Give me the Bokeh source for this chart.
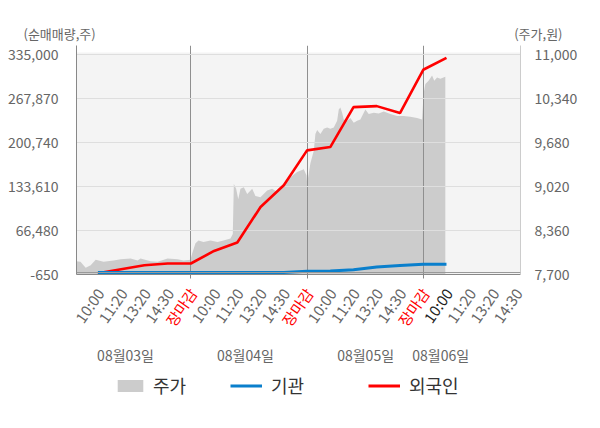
from bokeh.plotting import figure
from bokeh.layouts import column
from bokeh.models import (Range1d, LinearAxis, FixedTicker, NumeralTickFormatter, ColumnDataSource,
                          Legend, LegendItem, Span)
from bokeh.embed import file_html
from bokeh.resources import INLINE
from bokeh.core.properties import value

FONT = "Noto Sans CJK KR"
NAN = float("nan")

# ---------------- data ----------------
days = ["08월03일", "08월04일", "08월05일", "08월06일"]
session_ticks = ["10:00", "11:20", "13:20", "14:30", "장마감"]
left_ticks = [-650, 66480, 133610, 200740, 267870, 335000]
right_ticks = [7700, 8360, 9020, 9680, 10340, 11000]
left_title = "(순매매량,주)"
right_title = "(주가,원)"
series_names = ["주가", "기관", "외국인"]

# checkpoints (day index + session fraction) for net purchase series
flow_x = [0.2, 0.4, 0.6, 0.8, 1.0,
          1.2, 1.4, 1.6, 1.8, 2.0,
          2.2, 2.4, 2.6, 2.8, 3.0,
          3.2]
foreign = [1030, 7440, 13540, 16130, 16130,
           35360, 48170, 102490, 135600, 189000,
           194030, 255060, 256580, 245900, 312120,
           330430]
institution = [2400, 2400, 2400, 2400, 2400,
               2400, 2400, 2400, 2400, 4390,
               4840, 6670, 10950, 13080, 15060,
               15100]

# intraday price (day index + fraction of session)
price_x = [0.0, 0.05, 0.095, 0.138, 0.181, 0.249, 0.335, 0.396, 0.482, 0.542, 0.567, 0.653,
           0.714, 0.8, 0.886, 0.937, 0.997,
           1.012, 1.04, 1.066, 1.109, 1.169, 1.23, 1.281, 1.341, 1.361, 1.37, 1.39, 1.408,
           1.427, 1.456, 1.485, 1.528, 1.556, 1.599, 1.657, 1.7, 1.743, 1.8, 1.857, 1.915,
           1.972, 1.995,
           2.001, 2.015, 2.029, 2.058, 2.072, 2.087, 2.115, 2.144, 2.173, 2.201, 2.23, 2.259,
           2.273, 2.287, 2.302, 2.316, 2.345, 2.373, 2.402, 2.431, 2.459, 2.502, 2.531, 2.574,
           2.617, 2.66, 2.717, 2.775, 2.831, 2.889, 2.947, 2.99,
           3.003, 3.018, 3.046, 3.076, 3.095, 3.119, 3.147, 3.19]
price = [7900, 7890, 7800, 7840, 7920, 7890, 7910, 7930, 7940, 7910, 7940, 7900,
         7890, 7940, 7930, 7910, 7920,
         8020, 8170, 8210, 8190, 8210, 8190, 8210, 8240, 8310, 9060, 8990, 8830,
         8990, 9010, 8910, 8990, 8880, 8860, 8960, 8990, 8940, 9060, 9160, 9240,
         9280, 9190,
         9070, 9220, 9370, 9560, 9810, 9870, 9810, 9890, 9910, 9890, 9910, 10010,
         10180, 10210, 10130, 10030, 10010, 10050, 9980, 10010, 10030, 10180, 10110, 10130,
         10120, 10150, 10110, 10080, 10080, 10070, 10050, 10030,
         10420, 10560, 10610, 10690, 10610, 10660, 10640, 10670]

date_pos = [0.438, 1.47, 2.504, 3.15]

# ---------------- layout constants (pixels) ----------------
W = 600
TOP_H = 45
MAIN_H = 238
BOT_H = 428 - TOP_H - MAIN_H
FL, FR = 76, 80          # frame borders left / right
X0, X1 = 0.016, 3.837    # x range of the plotting frame
px_per_unit = (W - FL - FR) / (X1 - X0)


def bare(fig):
    fig.xaxis.visible = False
    fig.yaxis.visible = False
    fig.grid.visible = False
    fig.outline_line_color = None
    return fig


# ---------------- top strip: axis titles ----------------
top = bare(figure(width=W, height=TOP_H, output_backend="svg", toolbar_location=None,
                  x_range=Range1d(0, W), y_range=Range1d(TOP_H, 0), frame_align=False,
                  x_axis_location=None, y_axis_location=None,
                  min_border=0, min_border_left=0, min_border_right=0,
                  min_border_top=0, min_border_bottom=0,
                  background_fill_color="white", border_fill_color="white"))
top.text(x=[23], y=[33], text=[left_title], text_align="left", text_baseline="middle",
         text_font=value(FONT), text_font_size="13px", text_color="#666666")
top.text(x=[562], y=[33], text=[right_title], text_align="right", text_baseline="middle",
         text_font=value(FONT), text_font_size="13px", text_color="#666666")

# ---------------- main chart ----------------
p = figure(width=W, height=MAIN_H, output_backend="svg", toolbar_location=None,
           x_range=Range1d(X0, X1), y_range=Range1d(-650, 349200), frame_align=False,
           min_border_left=FL, min_border_right=FR, min_border_top=0, min_border_bottom=9,
           background_fill_color="white", border_fill_color="white", outline_line_color=None)
p.extra_y_ranges = {"price": Range1d(7700, 11140)}

p.quad(left=[X0], right=[X1], bottom=[left_ticks[0]], top=[338500],
       fill_color="#f4f4f4", line_color=None, level="image")

area = p.varea(x=price_x, y1=[right_ticks[0]] * len(price_x), y2=price, y_range_name="price",
               fill_color="#cccccc", level="image")

red = p.line(flow_x, foreign, line_color="#ff0000", line_width=2.6)
blue = p.line(flow_x, institution, line_color="#0a7fcc", line_width=3)

p.ygrid.ticker = FixedTicker(ticks=left_ticks)
p.ygrid.grid_line_color = "#dedede"
p.xgrid.ticker = FixedTicker(ticks=[1, 2, 3])
p.xgrid.grid_line_color = "#8f8f8f"

p.add_layout(Span(location=2400, dimension="width", line_color="#999999", line_width=1))

ya = p.yaxis[0]
ya.ticker = FixedTicker(ticks=left_ticks)
ya.formatter = NumeralTickFormatter(format="0,0")
ya.axis_line_color = "#888888"
ya.major_tick_line_color = None
ya.minor_tick_line_color = None
ya.major_label_standoff = 12
ya.major_label_text_font = FONT
ya.major_label_text_font_size = "14px"
ya.major_label_text_color = "#666666"

ra = LinearAxis(y_range_name="price", ticker=FixedTicker(ticks=right_ticks),
                formatter=NumeralTickFormatter(format="0,0"))
ra.axis_line_color = "#cccccc"
ra.major_tick_line_color = None
ra.minor_tick_line_color = None
ra.major_label_standoff = 8
ra.major_label_text_font = FONT
ra.major_label_text_font_size = "14px"
ra.major_label_text_color = "#666666"
p.add_layout(ra, "right")

xa = p.xaxis[0]
xa.ticker = FixedTicker(ticks=[1, 2, 3])
xa.major_label_overrides = {1: "", 2: "", 3: ""}
xa.major_label_standoff = 0
xa.major_label_text_font_size = "1px"
xa.axis_line_color = "#888888"
xa.major_tick_line_color = "#888888"
xa.major_tick_in = 0
xa.major_tick_out = 4
xa.minor_tick_line_color = None

# ---------------- bottom strip: session labels, dates, legend ----------------
b = bare(figure(width=W, height=BOT_H, output_backend="svg", toolbar_location=None,
                x_range=Range1d(X0 - FL / px_per_unit, X1 + FR / px_per_unit),
                y_range=Range1d(428, TOP_H + MAIN_H), frame_align=False,
                x_axis_location=None, y_axis_location=None,
                min_border=0, min_border_left=0, min_border_right=0,
                min_border_top=0, min_border_bottom=0,
                background_fill_color="white", border_fill_color="white"))

tx, tt, tc = [], [], []
for d in range(4):
    for k, lab in enumerate(session_ticks):
        if d == 3 and k == 4:
            continue
        tx.append(d + (k + 1) * 0.2)
        tt.append(lab)
        if lab == "장마감":
            tc.append("#ff0000")
        elif d == 3 and k == 0:
            tc.append("#222222")
        else:
            tc.append("#666666")
src = ColumnDataSource(dict(x=tx, y=[289.5] * len(tx), text=tt, color=tc))
b.text(x="x", y="y", text="text", source=src, text_color="color", angle=55, angle_units="deg",
       x_offset=2, text_align="right", text_baseline="middle",
       text_font=value(FONT), text_font_size="15px")

b.text(x=date_pos, y=[354] * len(days), text=days, text_align="center", text_baseline="middle",
       text_font=value(FONT), text_font_size="14px", text_color="#666666")

# legend keys (renderers without visible points, styled like the chart series)
k_area = b.varea(x=[NAN], y1=[NAN], y2=[NAN], fill_color="#cccccc")
k_blue = b.line(x=[NAN], y=[NAN], line_color="#0a7fcc", line_width=3)
k_red = b.line(x=[NAN], y=[NAN], line_color="#ff0000", line_width=3)


def make_legend(label, rend, loc, standoff):
    lg = Legend(items=[LegendItem(label=label, renderers=[rend])], location=loc,
                orientation="horizontal", glyph_width=32, glyph_height=15, label_height=15,
                label_standoff=standoff, padding=0, margin=0, spacing=0,
                border_line_color=None, background_fill_alpha=0,
                label_text_font=FONT, label_text_font_size="18px", label_text_color="#333333")
    b.add_layout(lg)


make_legend(series_names[0], k_area, (114, 30), 7)
make_legend(series_names[1], k_blue, (230, 30), 9)
make_legend(series_names[2], k_red, (368, 30), 9)

layout = column(top, p, b, spacing=0)
open("out.html", "w").write(file_html(layout, INLINE))
